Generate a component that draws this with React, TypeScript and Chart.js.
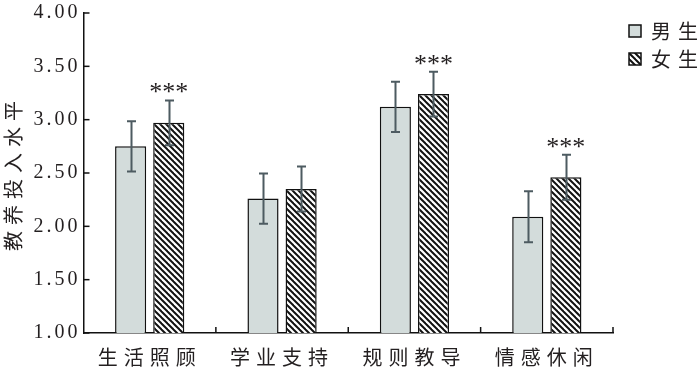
import React, { useEffect, useRef } from "react";
import { Chart, registerables } from "chart.js";

Chart.register(...registerables);

const categories = ["生活照顾", "学业支持", "规则教导", "情感休闲"];
const seriesNames = ["男生", "女生"];
const boys = [2.75, 2.26, 3.12, 2.09];
const boysErr = [0.235, 0.235, 0.235, 0.24];
const girls = [2.97, 2.35, 3.24, 2.46];
const girlsErr = [0.21, 0.21, 0.21, 0.21];
const girlsSig = ["***", "", "***", "***"];
const yTitle = "教养投入水平";

const TEXT = "#231f20";
const FILL = "#d3dcdb";
const ERR = "#4d5b61";
const CJK = "'Noto Sans CJK SC', 'Noto Sans CJK JP', sans-serif";
const SERIF = "'Liberation Serif', 'DejaVu Serif', serif";

function makeHatch(): CanvasPattern | string {
  const c = document.createElement("canvas");
  c.width = 6;
  c.height = 6;
  const g = c.getContext("2d");
  if (!g) return "#888";
  g.fillStyle = "#ffffff";
  g.fillRect(0, 0, 6, 6);
  g.strokeStyle = "#111111";
  g.lineWidth = 2;
  g.lineCap = "square";
  for (const k of [-6, 0, 6]) {
    g.beginPath();
    g.moveTo(-2, -2 + k);
    g.lineTo(8, 8 + k);
    g.stroke();
  }
  const p = g.createPattern(c, "repeat");
  return p || "#888";
}

export default function App() {
  const ref = useRef<HTMLCanvasElement>(null);

  useEffect(() => {
    const canvas = ref.current;
    if (!canvas) return;
    const hatch = makeHatch();

    const extras = {
      id: "extras",
      beforeDraw(chart: any) {
        const ctx = chart.ctx;
        ctx.letterSpacing = "6px";
        const ys = chart.scales.y;
        if (ys && !ys.__wrapped) {
          const orig = ys.drawLabels.bind(ys);
          ys.drawLabels = (ca: any) => {
            ctx.save();
            ctx.letterSpacing = "3px";
            orig(ca);
            ctx.restore();
          };
          ys.__wrapped = true;
        }
      },
      afterDatasetsDraw(chart: any) {
        const ctx = chart.ctx;
        const y = chart.scales.y;
        const errs = [boysErr, girlsErr];
        const vals = [boys, girls];
        ctx.save();
        ctx.strokeStyle = ERR;
        ctx.lineWidth = 2;
        for (let d = 0; d < 2; d++) {
          const meta = chart.getDatasetMeta(d);
          meta.data.forEach((bar: any, i: number) => {
            const x = Math.round(bar.x) + 0.5;
            const top = y.getPixelForValue(vals[d][i] + errs[d][i]);
            const bot = y.getPixelForValue(vals[d][i] - errs[d][i]);
            ctx.beginPath();
            ctx.moveTo(x, top);
            ctx.lineTo(x, bot);
            ctx.moveTo(x - 4.5, top);
            ctx.lineTo(x + 4.5, top);
            ctx.moveTo(x - 4.5, bot);
            ctx.lineTo(x + 4.5, bot);
            ctx.stroke();
          });
        }
        // significance stars
        ctx.fillStyle = TEXT;
        ctx.font = "26px " + SERIF;
        ctx.letterSpacing = "0px";
        ctx.textAlign = "center";
        ctx.textBaseline = "alphabetic";
        const gm = chart.getDatasetMeta(1);
        gm.data.forEach((bar: any, i: number) => {
          if (!girlsSig[i]) return;
          const top = y.getPixelForValue(girls[i] + girlsErr[i]);
          ctx.fillText(girlsSig[i], bar.x, top);
        });
        ctx.restore();
      },
      afterDraw(chart: any) {
        const ctx = chart.ctx;
        const ca = chart.chartArea;
        const x = chart.scales.x;
        const y = chart.scales.y;
        ctx.save();
        ctx.strokeStyle = "#111";
        ctx.lineWidth = 1.5;
        // inward y ticks
        y.ticks.forEach((t: any) => {
          const py = y.getPixelForValue(t.value);
          ctx.beginPath();
          ctx.moveTo(ca.left, py);
          ctx.lineTo(ca.left + 6, py);
          ctx.stroke();
        });
        // inward x ticks at category boundaries
        const n = categories.length;
        for (let i = 0; i < n; i++) {
          const half = (x.getPixelForValue(1) - x.getPixelForValue(0)) / 2;
          const px = x.getPixelForValue(i) + half;
          ctx.beginPath();
          ctx.moveTo(px, ca.bottom);
          ctx.lineTo(px, ca.bottom - 6);
          ctx.stroke();
        }
        // legend
        const items = [
          { name: seriesNames[0], fill: FILL as any, y: 31 },
          { name: seriesNames[1], fill: hatch as any, y: 59 },
        ];
        items.forEach((it) => {
          ctx.fillStyle = it.fill;
          ctx.fillRect(629, it.y - 6, 12, 12);
          ctx.strokeStyle = "#111";
          ctx.lineWidth = 1.5;
          ctx.strokeRect(629, it.y - 6, 12, 12);
          ctx.fillStyle = TEXT;
          ctx.font = "20px " + CJK;
          ctx.letterSpacing = "7px";
          ctx.textAlign = "left";
          ctx.textBaseline = "middle";
          ctx.fillText(it.name, 651, it.y);
        });
        ctx.restore();
      },
    };

    const chart = new Chart(canvas, {
      type: "bar",
      data: {
        labels: categories,
        datasets: [
          {
            label: seriesNames[0],
            data: boys,
            backgroundColor: FILL,
            borderColor: "#111",
            borderWidth: 1.5,
            borderSkipped: false,
            categoryPercentage: 0.576,
            barPercentage: 0.816,
          },
          {
            label: seriesNames[1],
            data: girls,
            backgroundColor: hatch as any,
            borderColor: "#111",
            borderWidth: 1.5,
            borderSkipped: false,
            categoryPercentage: 0.576,
            barPercentage: 0.816,
          },
        ],
      },
      options: {
        responsive: false,
        animation: false,
        devicePixelRatio: 1,
        layout: { padding: { left: 0, top: 12, right: 87, bottom: 0 } },
        plugins: {
          legend: { display: false },
          tooltip: { enabled: false },
        },
        scales: {
          x: {
            offset: true,
            grid: { display: false, drawTicks: false },
            border: { display: true, color: "#111", width: 1.5 },
            ticks: {
              color: TEXT,
              font: { family: CJK, size: 20 },
              padding: 12,
              maxRotation: 0,
            },
            afterFit: (s: any) => {
              s.height = 36;
            },
          },
          y: {
            min: 1,
            max: 4,
            grid: { display: false, drawTicks: false },
            border: { display: true, color: "#111", width: 1.5 },
            ticks: {
              stepSize: 0.5,
              color: TEXT,
              font: { family: SERIF, size: 20, lineHeight: 1 },
              padding: 3,
              callback: (v: any) => Number(v).toFixed(2),
            },
            title: {
              display: true,
              text: yTitle,
              color: TEXT,
              font: { family: CJK, size: 20 },
              padding: { top: 1, bottom: 0 },
            },
            afterFit: (s: any) => {
              s.width = 83.5;
            },
          },
        },
      },
      plugins: [extras],
    });
    return () => chart.destroy();
  }, []);

  return (
    <div style={{ position: "absolute", left: 0, top: 0, width: 700, height: 369, background: "#fff" }}>
      <canvas ref={ref} width={700} height={369} />
    </div>
  );
}
